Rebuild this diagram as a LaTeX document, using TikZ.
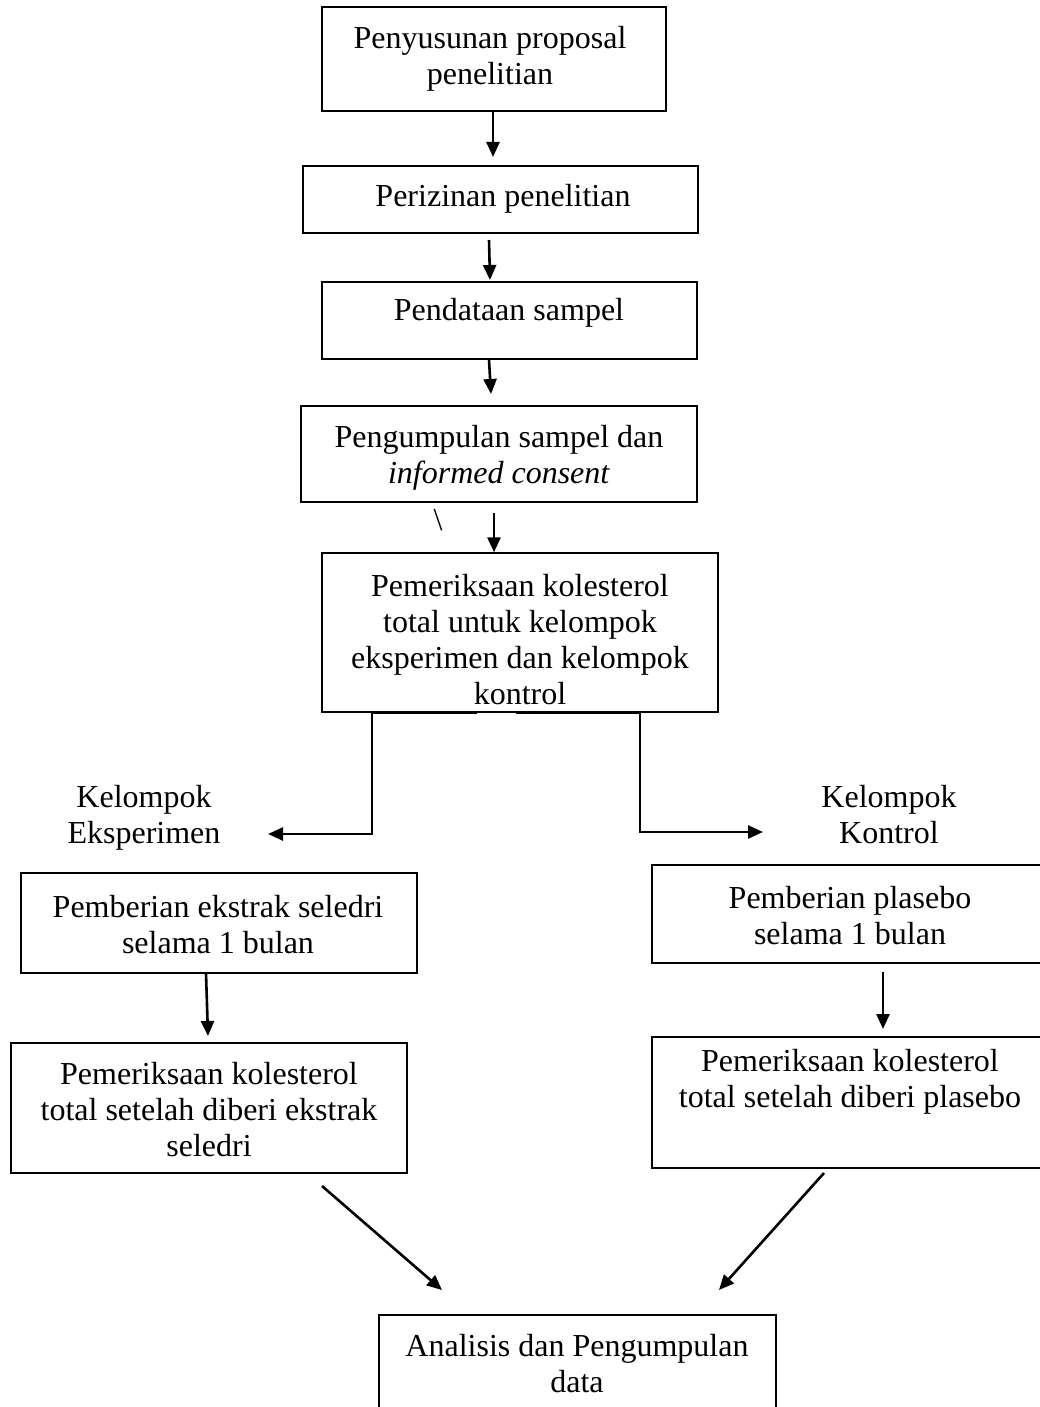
\documentclass[tikz,border=0pt]{standalone}
\usepackage{fontspec}
\setmainfont{Liberation Serif}
\usetikzlibrary{arrows.meta}
\begin{document}
\begin{tikzpicture}[x=1pt,y=-1pt,
  boxthin/.style={draw, line width=1.3pt, rectangle, inner sep=0pt},
  boxthick/.style={draw, line width=2.4pt, rectangle, inner sep=0pt},
  lbl/.style={align=center, font=\fontsize{32}{36}\selectfont, inner sep=0pt},
  arr/.style={line width=2.6pt, -{Triangle[length=15pt,width=13pt]}},
  conn/.style={line width=2.6pt},
]
\useasboundingbox (0,0) rectangle (1040,1407);
% boxes
\node[boxthick, minimum width=344pt, minimum height=104pt] (b1) at (494,59) {};
\node[boxthin,  minimum width=395pt, minimum height=67pt]  (b2) at (500.5,199.5) {};
\node[boxthick, minimum width=375pt, minimum height=77pt]  (b3) at (509.5,320.5) {};
\node[boxthin,  minimum width=396pt, minimum height=96pt]  (b4) at (499,454) {};
\node[boxthin,  minimum width=396pt, minimum height=159pt] (b5) at (520,632.5) {};
\node[boxthin,  minimum width=396pt, minimum height=100pt] (b6) at (219,923) {};
\node[boxthin,  minimum width=396pt, minimum height=130pt] (b7) at (209,1108) {};
\node[boxthin,  minimum width=396pt, minimum height=98pt]  (b8) at (850,914) {};
\node[boxthin,  minimum width=396pt, minimum height=131pt] (b9) at (850,1102.5) {};
\node[boxthin,  minimum width=397pt, minimum height=120pt] (b10) at (577.5,1375) {};
% texts
\node[lbl] (t1) at (490,59) {Penyusunan proposal\\penelitian};
\node[lbl] (t2) at (503,199) {Perizinan penelitian};
\node[lbl] (t3) at (509,313) {Pendataan sampel};
\node[lbl] (t4) at (499,458) {Pengumpulan sampel dan\\\textit{informed consent}};
\node[lbl] (t5) at (520,640) {Pemeriksaan kolesterol\\total untuk kelompok\\eksperimen dan kelompok\\kontrol};
\node[lbl] (t6) at (218,925) {Pemberian ekstrak seledri\\selama 1 bulan};
\node[lbl] (t7) at (209,1110) {Pemeriksaan kolesterol\\total setelah diberi ekstrak\\seledri};
\node[lbl] (t8) at (850,916) {Pemberian plasebo\\selama 1 bulan};
\node[lbl] (t9) at (850,1082) {Pemeriksaan kolesterol\\total setelah diberi plasebo};
\node[lbl] (t10) at (577,1364) {Analisis dan Pengumpulan\\data};
\node[lbl] (k1) at (144,818) {Kelompok\\Eksperimen};
\node[lbl] (k2) at (889,815) {Kelompok\\Kontrol};
\node[lbl] (bs) at (438,520) {\textbackslash};
% connector coordinates
\coordinate (p1) at (493,157);
\coordinate (p2s) at (489,240);
\coordinate (p2) at (490,280);
\coordinate (p3) at (491,394);
\coordinate (p4s) at (494,513);
\coordinate (p6s) at (206,973);
\coordinate (p6) at (208,1036);
\coordinate (p7s) at (883,972);
\coordinate (p7) at (883,1029);
\coordinate (p8s) at (322,1186);
\coordinate (p8) at (442,1290);
\coordinate (p9s) at (824,1173);
\coordinate (p9) at (719,1290);
\coordinate (sl) at (477,713);
\coordinate (sr) at (516,713);
\coordinate (el) at (268,834);
\coordinate (er) at (763,832);
% arrows
\draw[arr] (b1.south -| p1) -- (p1);
\draw[arr] (p2s) -- (p2);
\draw[arr] (b3.south -| 489,0) -- (p3);
\draw[arr] (p4s) -- (b5.north -| p4s);
\draw[conn, -{Triangle[length=15pt,width=13pt]}] (sl) -- (372,713) -- (372,834) -- (el);
\draw[conn, -{Triangle[length=15pt,width=13pt]}] (sr) -- (640,713) -- (640,832) -- (er);
\draw[arr] (p6s) -- (p6);
\draw[arr] (p7s) -- (p7);
\draw[arr] (p8s) -- (p8);
\draw[arr] (p9s) -- (p9);
\end{tikzpicture}
\end{document}
